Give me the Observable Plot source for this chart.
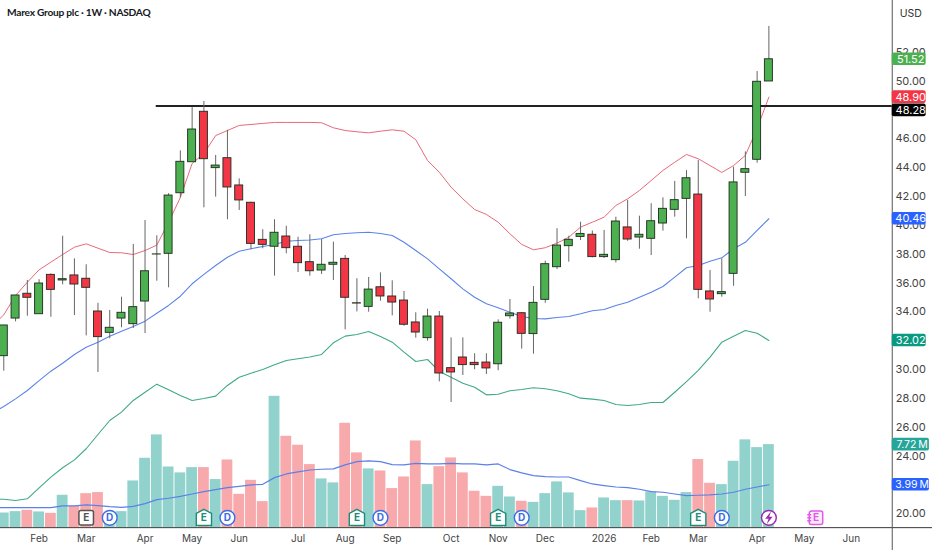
<!DOCTYPE html>
<html>
<head>
<meta charset="utf-8">
<script src="https://cdn.jsdelivr.net/npm/d3@7"></script>
<script src="https://cdn.jsdelivr.net/npm/@observablehq/plot@0.6"></script>
<style>
html,body{margin:0;padding:0;background:#fff;}
svg{display:block;}
.ttl,.ttl text{letter-spacing:-0.25px;}
</style>
</head>
<body>
<div id="chart"></div>
<script>
const title = "Marex Group plc · 1W · NASDAQ";
const open = [30.93,33.54,35.26,33.84,36.57,36.18,36.53,36.30,34.03,32.55,33.54,33.15,34.72,37.98,38.03,42.23,44.38,47.88,43.97,44.66,42.77,41.57,39.00,38.52,39.23,38.52,37.45,36.87,37.27,37.68,34.60,34.35,35.71,35.07,34.79,33.27,32.18,33.68,30.10,30.84,30.47,30.49,30.37,33.70,33.91,32.46,34.84,37.10,38.56,39.20,39.35,37.80,37.59,39.86,39.16,39.07,40.13,41.08,41.84,42.14,35.42,35.23,36.64,43.65,44.55,49.98];
const high = [33.06,35.14,36.18,36.23,36.64,39.25,37.68,37.27,34.60,34.10,35.02,38.68,40.34,39.28,42.20,45.17,48.17,48.59,44.85,46.60,43.23,41.60,39.70,40.39,39.94,39.18,39.35,39.02,38.84,37.91,36.30,36.39,36.71,36.16,35.42,33.94,34.19,34.03,32.20,32.20,31.10,31.10,33.45,34.86,33.95,35.76,37.52,39.77,39.25,40.22,39.61,39.65,40.57,41.73,40.64,41.50,41.91,43.05,43.80,44.50,36.87,37.68,44.04,45.10,50.67,53.80];
const low = [29.89,33.31,33.70,33.84,33.63,35.88,33.75,32.34,29.80,32.14,32.90,32.85,32.50,36.13,35.67,41.90,44.38,41.22,41.96,40.39,41.03,38.31,38.38,36.48,38.03,36.73,36.48,36.60,36.18,32.76,34.00,33.98,34.74,33.73,33.01,32.18,31.97,29.15,27.72,29.59,29.99,29.66,29.92,33.50,31.42,31.07,34.60,36.94,37.45,38.95,37.75,37.70,37.40,38.90,38.35,37.91,39.60,40.57,39.07,34.91,33.98,35.02,35.78,42.00,44.31,49.98];
const close = [33.06,35.14,34.98,35.97,35.53,36.27,35.90,35.67,32.25,32.90,33.94,34.33,36.82,37.99,42.07,44.41,46.65,44.59,44.15,42.63,41.73,38.72,38.65,39.49,38.42,37.38,36.82,37.27,37.41,34.98,34.58,35.55,35.07,34.65,33.11,32.57,33.68,29.73,29.80,30.31,30.31,30.08,33.25,33.89,32.48,34.63,37.31,38.60,39.00,39.41,37.80,37.96,40.27,39.02,39.35,40.29,41.15,41.75,43.27,35.53,34.86,35.37,42.98,43.90,49.96,51.52];
// indicator series begin one week before the first candle, which lies off the left edge
const upperBand = [33.00,33.80,35.14,36.06,36.92,37.45,37.98,38.49,38.72,38.42,38.12,38.10,37.98,38.26,38.63,40.22,41.93,44.29,44.99,46.23,46.58,46.93,47.00,47.07,47.14,47.14,47.14,47.14,47.12,46.77,46.58,46.49,46.42,46.53,46.63,46.53,45.94,44.50,43.69,42.65,41.84,41.10,40.76,40.22,39.42,38.68,38.31,38.45,38.77,39.18,39.88,40.22,40.57,41.38,41.84,42.42,43.11,43.81,44.38,44.92,44.62,44.15,43.67,44.15,44.85,46.72,48.90];
const middleBand = [27.00,27.44,27.97,28.55,29.24,29.89,30.44,31.05,31.55,31.90,32.32,32.66,32.99,33.36,33.91,34.45,35.09,35.95,36.60,37.22,37.79,38.21,38.38,38.54,38.68,38.90,38.95,38.99,39.07,39.35,39.44,39.49,39.53,39.44,39.30,38.83,38.26,37.68,36.99,36.30,35.60,35.02,34.56,34.29,33.98,33.68,33.54,33.52,33.61,33.68,33.87,34.08,34.17,34.45,34.67,35.02,35.37,35.76,36.41,37.06,37.22,37.52,37.75,38.38,38.83,39.65,40.46];
const lowerBand = [21.00,21.01,20.92,21.04,21.80,22.54,23.19,23.74,24.51,25.50,26.47,27.05,27.86,28.43,28.99,28.60,28.20,27.86,28.00,28.16,28.90,29.47,29.75,30.01,30.33,30.63,30.75,30.87,31.05,31.86,32.32,32.43,32.64,32.30,31.90,31.21,30.56,30.70,29.87,29.47,29.06,28.78,28.25,28.29,28.53,28.62,28.74,28.67,28.53,28.32,28.02,27.95,27.86,27.58,27.51,27.58,27.72,27.72,28.43,29.17,29.94,30.86,31.90,32.32,32.71,32.52,32.02];
const volumeMA = [1.86,1.86,1.86,1.86,1.86,1.86,2.02,2.02,2.11,2.05,1.95,1.89,1.98,2.23,2.60,2.73,2.91,3.13,3.35,3.53,3.72,3.84,3.97,4.03,4.65,4.99,5.18,5.36,5.43,5.46,5.83,6.14,6.20,6.14,5.86,5.83,5.98,5.92,5.92,5.98,5.92,5.92,5.83,5.92,5.40,5.09,4.84,4.74,4.71,4.71,4.37,4.06,3.91,3.78,3.72,3.57,3.35,3.29,3.13,2.98,3.01,3.04,3.13,3.29,3.57,3.78,3.99];
const volume = [1.36,1.49,1.61,1.46,1.33,3.01,1.98,3.16,3.26,1.30,1.49,4.34,6.45,8.62,5.64,5.09,5.58,5.58,4.47,6.29,3.10,4.40,2.42,12.21,8.49,7.66,5.86,4.53,4.16,9.70,6.95,5.46,5.27,3.63,4.71,8.06,4.00,5.67,6.48,5.09,3.38,2.91,3.84,2.85,2.45,2.35,3.16,4.25,3.23,1.58,1.83,2.76,2.51,2.51,2.48,3.32,2.91,2.54,3.26,6.33,4.12,4.00,6.17,8.16,7.44,7.72];
const monthLabels = ["Feb","Mar","Apr","May","Jun","Jul","Aug","Sep","Oct","Nov","Dec","2026","Feb","Mar","Apr","May","Jun"];
const monthWeeks = [3,7,12,16,20,25,29,33,38,42,46,51,55,59,64,68,72];
const priceTicks = [20,24,26,28,30,32,34,36,38,40,42,44,46,50,52];
const levelPrice = 48.28;
const tagPlaces = [51.52,48.90,47.98,40.46,32.02];
const tagLabels = ["51.52","48.90","48.28","40.46","32.02"];
const tagColors = ["#4caf50","#f23645","#000000","#2962ff","#089981"];
const volTagValues = [7.72,3.99];
const volTagLabels = ["7.72\u2009M","3.99\u2009M"];
const volTagColors = ["#26a69a","#2962ff"];
const earningsPast = [17,30,42,59];
const earningsPlain = [7];
const dividends = [9,19,32,44,61];
const splitsWeek = [65];
const earningsNext = [69];

const weeks = open.map((_, i) => i);
const volY = v => 19.04 + v * 0.746;           // volume pane shares the price axis
const markerY = 19.72;
const axisWeek = 75.48, tagEnd = 78.36, volTagEnd = 78.64, labelWeek = 77.05;
const halfTag = 0.44;

const house = {draw(c, s){ const r = Math.sqrt(s); c.moveTo(0,-r*0.62); c.lineTo(r*0.55,-r*0.32); c.lineTo(r*0.55,r*0.55); c.lineTo(-r*0.55,r*0.55); c.lineTo(-r*0.55,-r*0.32); c.closePath(); }};
const rsquare = {draw(c, s){ const r = Math.sqrt(s)*0.5, k = 2; c.moveTo(-r+k,-r); c.lineTo(r-k,-r); c.arcTo(r,-r,r,-r+k,k); c.lineTo(r,r-k); c.arcTo(r,r,r-k,r,k); c.lineTo(-r+k,r); c.arcTo(-r,r,-r,r-k,k); c.lineTo(-r,-r+k); c.arcTo(-r,-r,-r+k,-r,k); c.closePath(); }};
const notebook = {draw(c, s){ rsquare.draw(c, s); const r = Math.sqrt(s)*0.5; for (const t of [-0.45, 0, 0.45]) { c.moveTo(-r-2, r*t); c.lineTo(-r+2, r*t); } }};
const bolt = {draw(c, s){ const r = Math.sqrt(s); c.moveTo(r*0.16,-r*0.46); c.lineTo(-r*0.26,r*0.06); c.lineTo(-r*0.02,r*0.06); c.lineTo(-r*0.16,r*0.46); c.lineTo(r*0.26,-r*0.08); c.lineTo(r*0.02,-r*0.08); c.closePath(); }};

const green = "#4caf50", red = "#f23645", border = "#1e2a1e";
const font = "Inter, 'Liberation Sans', sans-serif";
const prior = {x: (d, i) => i - 1, y: d => d};

const plot = Plot.plot({
  width: 932, height: 550,
  marginTop: 0, marginRight: 0, marginBottom: 0, marginLeft: 0,
  x: {domain: [-0.28, 78.9], axis: null},
  y: {domain: [17.455, 55.596], axis: null},
  style: {background: "#fff", fontFamily: font},
  marks: [
    // volume
    Plot.rectY(weeks, {x1: i => i - 0.46, x2: i => i + 0.46, y1: volY(0), y2: i => volY(volume[i]),
      fill: i => close[i] >= open[i] ? "#92d2cc" : "#f8a9ab"}),
    Plot.line(volumeMA, {x: (d, i) => i - 1, y: d => volY(d), stroke: "#5b80e8", strokeWidth: 1.2}),
    // bands
    Plot.line(upperBand, {...prior, stroke: "#e86a78", strokeWidth: 1}),
    Plot.line(middleBand, {...prior, stroke: "#5b83e8", strokeWidth: 1.1}),
    Plot.line(lowerBand, {...prior, stroke: "#3fa98b", strokeWidth: 1.1}),
    // resistance level
    Plot.ruleY([levelPrice], {x1: 12.95, x2: axisWeek, stroke: "#222", strokeWidth: 2}),
    // candles
    Plot.ruleX(weeks, {x: i => i, y1: i => low[i], y2: i => high[i], stroke: "#666", strokeWidth: 1}),
    Plot.rect(weeks, {x1: i => i - 0.34, x2: i => i + 0.34, y1: i => open[i], y2: i => close[i],
      fill: i => close[i] >= open[i] ? green : red, stroke: border, strokeWidth: 0.9}),
    // axes frame
    Plot.ruleY([volY(0)], {stroke: "#3a3a3a", strokeWidth: 1}),
    Plot.ruleX([axisWeek], {stroke: "#555", strokeWidth: 1}),
    // event markers
    Plot.dot(earningsPlain, {x: d => d, y: markerY, symbol: rsquare, r: 8.2, fill: "#fff", stroke: "#555", strokeWidth: 1.5}),
    Plot.dot(earningsPast, {x: d => d, y: markerY, symbol: house, r: 7.8, fill: "#fff", stroke: "#1b8d78", strokeWidth: 1.4}),
    Plot.dot(dividends, {x: d => d, y: markerY, symbol: "circle", r: 7.4, fill: "#fff", stroke: "#3d6ce8", strokeWidth: 1.4}),
    Plot.dot(splitsWeek, {x: d => d, y: markerY, symbol: "circle", r: 7.4, fill: "#fff", stroke: "#9c27b0", strokeWidth: 1.4}),
    Plot.dot(splitsWeek, {x: d => d, y: markerY, symbol: bolt, r: 8, fill: "#9c27b0"}),
    Plot.dot(earningsNext, {x: d => d, y: markerY, symbol: notebook, r: 7.6, fill: "#fbeafc", stroke: "#e05ce6", strokeWidth: 1.5}),
    Plot.text(earningsPlain, {x: d => d, y: markerY, text: () => "E", fill: "#555", fontSize: 10, fontWeight: 700}),
    Plot.text(earningsPast, {x: d => d, y: markerY, text: () => "E", fill: "#1b8d78", fontSize: 10, fontWeight: 700}),
    Plot.text(dividends, {x: d => d, y: markerY, text: () => "D", fill: "#3d6ce8", fontSize: 10, fontWeight: 700}),
    Plot.text(earningsNext, {x: d => d, y: markerY, text: () => "E", fill: "#e05ce6", fontSize: 10, fontWeight: 700}),
    // time axis
    Plot.text(monthLabels, {x: (d, i) => monthWeeks[i], y: 18.24, text: d => d, fill: "#444", fontSize: 10,
      fontWeight: d => d === "2026" ? 700 : 400}),
    // price axis
    Plot.text(priceTicks, {x: labelWeek, y: d => d, text: d => d.toFixed(2), fill: "#444", fontSize: 11}),
    Plot.text(["USD"], {x: labelWeek, y: 54.66, text: d => d, fill: "#333", fontSize: 10.5}),
    // last-value tags
    Plot.rect(tagPlaces, {x1: axisWeek, x2: tagEnd, y1: d => d - halfTag, y2: d => d + halfTag, rx: 2,
      fill: (d, i) => tagColors[i]}),
    Plot.text(tagPlaces, {x: labelWeek, y: d => d, text: (d, i) => tagLabels[i], fill: "#fff", fontSize: 11}),
    Plot.rect(volTagValues, {x1: axisWeek, x2: volTagEnd, y1: d => volY(d) - halfTag, y2: d => volY(d) + halfTag, rx: 2,
      fill: (d, i) => volTagColors[i]}),
    Plot.text(volTagValues, {x: labelWeek + 0.12, y: d => volY(d), text: (d, i) => volTagLabels[i], fill: "#fff", fontSize: 10.5}),
    // title
    Plot.text([title], {frameAnchor: "top-left", dx: 6.5, dy: 8, text: d => d, fontSize: 10.2, fontWeight: 700,
      fontFamily: "Lato, sans-serif", fill: "#131722", lineAnchor: "top", className: "ttl"})
  ]
});
document.getElementById("chart").append(plot);
</script>
</body>
</html>
